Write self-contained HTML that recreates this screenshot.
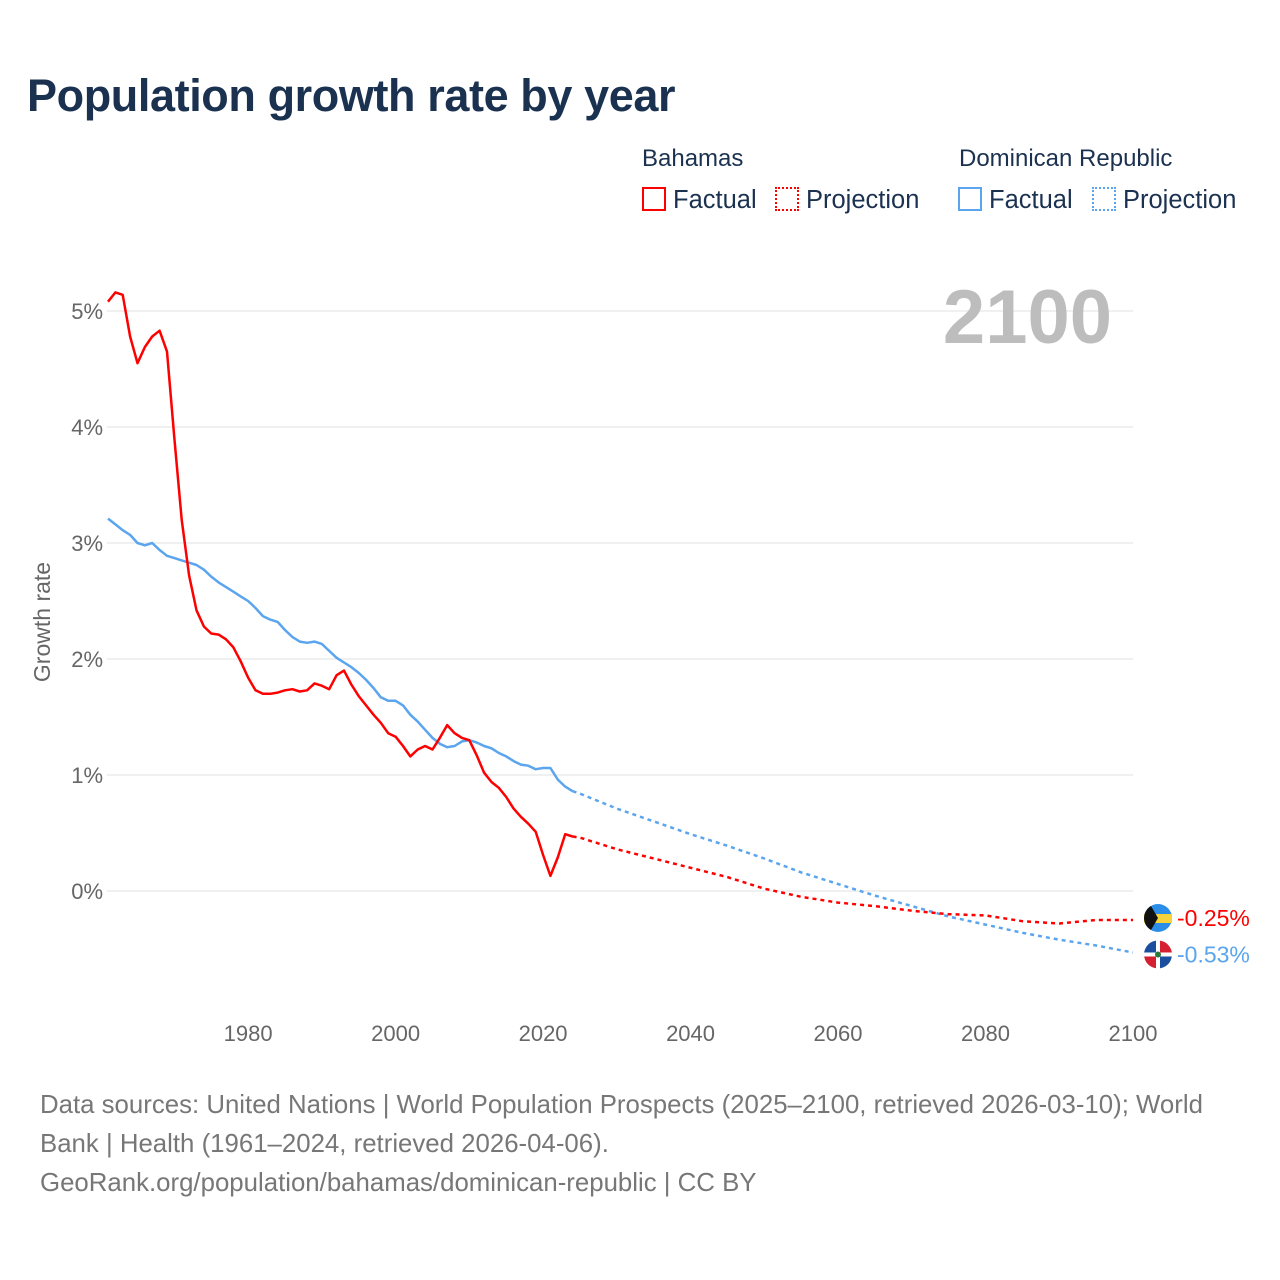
<!DOCTYPE html>
<html><head><meta charset="utf-8">
<style>
body{margin:0;background:#fff;font-family:"Liberation Sans",sans-serif;}
#root{position:relative;width:1280px;height:1280px;overflow:hidden;}
.t{position:absolute;white-space:nowrap;}
</style></head><body>
<div id="root">
<div class="t" style="left:27px;top:70px;font-size:45px;font-weight:bold;color:#1b3150;letter-spacing:-0.4px;">Population growth rate by year</div>
<div class="t" style="left:642px;top:145px;font-size:24px;color:#1b3150;">Bahamas</div>
<div class="t" style="left:959px;top:145px;font-size:24px;color:#1b3150;">Dominican Republic</div>
<div class="t" style="left:642px;top:186px;font-size:25.5px;color:#1b3150;"><span style="display:inline-block;width:20px;height:20px;border:2px solid #f00;vertical-align:-3px;margin-right:7px;"></span>Factual</div>
<div class="t" style="left:775px;top:186px;font-size:25.5px;color:#1b3150;"><span style="display:inline-block;width:20px;height:20px;border:2px dotted #f00;vertical-align:-3px;margin-right:7px;"></span>Projection</div>
<div class="t" style="left:958px;top:186px;font-size:25.5px;color:#1b3150;"><span style="display:inline-block;width:20px;height:20px;border:2px solid #5aa5ee;vertical-align:-3px;margin-right:7px;"></span>Factual</div>
<div class="t" style="left:1092px;top:186px;font-size:25.5px;color:#1b3150;"><span style="display:inline-block;width:20px;height:20px;border:2px dotted #5aa5ee;vertical-align:-3px;margin-right:7px;"></span>Projection</div>
<svg id="chart" width="1280" height="1280" style="position:absolute;left:0;top:0;" font-family="Liberation Sans, sans-serif"></svg>
<div class="t" style="left:40px;top:1086px;font-size:25.8px;color:#777;line-height:39px;">Data sources: United Nations | World Population Prospects (2025–2100, retrieved 2026-03-10); World<br>Bank | Health (1961–2024, retrieved 2026-04-06).<br>GeoRank.org/population/bahamas/dominican-republic | CC BY</div>
</div>
<script>
const factYears=[1961,1962,1963,1964,1965,1966,1967,1968,1969,1970,1971,1972,1973,1974,1975,1976,1977,1978,1979,1980,1981,1982,1983,1984,1985,1986,1987,1988,1989,1990,1991,1992,1993,1994,1995,1996,1997,1998,1999,2000,2001,2002,2003,2004,2005,2006,2007,2008,2009,2010,2011,2012,2013,2014,2015,2016,2017,2018,2019,2020,2021,2022,2023,2024];
const bahFact=[5.08,5.16,5.14,4.78,4.55,4.69,4.78,4.83,4.65,3.9,3.2,2.72,2.42,2.28,2.22,2.21,2.17,2.1,1.98,1.84,1.73,1.7,1.7,1.71,1.73,1.74,1.72,1.73,1.79,1.77,1.74,1.86,1.9,1.78,1.68,1.6,1.52,1.45,1.36,1.33,1.25,1.16,1.22,1.25,1.22,1.32,1.43,1.36,1.32,1.3,1.17,1.02,0.94,0.89,0.81,0.71,0.64,0.58,0.51,0.31,0.13,0.29,0.49,0.47];
const drFact=[3.21,3.16,3.11,3.07,3.0,2.98,3.0,2.94,2.89,2.87,2.85,2.83,2.81,2.77,2.71,2.66,2.62,2.58,2.54,2.5,2.44,2.37,2.34,2.32,2.25,2.19,2.15,2.14,2.15,2.13,2.07,2.01,1.97,1.93,1.88,1.82,1.75,1.67,1.64,1.64,1.6,1.52,1.46,1.39,1.32,1.27,1.24,1.25,1.29,1.3,1.28,1.25,1.23,1.19,1.16,1.12,1.09,1.08,1.05,1.06,1.06,0.96,0.9,0.86];
const projYears=[2024,2025,2030,2035,2040,2045,2050,2055,2060,2065,2070,2075,2080,2085,2090,2095,2100];
const bahProj=[0.47,0.46,0.36,0.28,0.2,0.12,0.02,-0.05,-0.1,-0.13,-0.17,-0.2,-0.21,-0.26,-0.28,-0.25,-0.25];
const drProj=[0.86,0.84,0.71,0.6,0.49,0.39,0.28,0.16,0.06,-0.04,-0.13,-0.22,-0.29,-0.36,-0.42,-0.47,-0.53];
const yTicks=[0,1,2,3,4,5];
const xTicks=[1980,2000,2020,2040,2060,2080,2100];
const endLabels=["-0.25%","-0.53%"];

const svg=document.getElementById('chart');const NS='http://www.w3.org/2000/svg';
const X=y=>108+(y-1961)*(1133-108)/(2100-1961);
const Y=v=>891-v*116;
function el(t,a){const e=document.createElementNS(NS,t);for(const k in a)e.setAttribute(k,a[k]);svg.appendChild(e);return e;}
yTicks.forEach(v=>{
 const g=el('line',{x1:107,x2:1133,y1:Y(v),y2:Y(v),stroke:'#e6e6e6','stroke-width':1.3});
 
 
 const t=el('text',{x:103,y:Y(v)+8,'text-anchor':'end','font-size':22,fill:'#666'});t.textContent=v+'%';
 
 
});
xTicks.forEach(y=>{
 const t=el('text',{x:X(y),y:1041,'text-anchor':'middle','font-size':22,fill:'#666'});t.textContent=y;
 
 
});
const at=el('text',{x:0,y:0,transform:'translate(50,622) rotate(-90)','text-anchor':'middle','font-size':23,fill:'#666'});at.textContent='Growth rate';


const yr=el('text',{x:1112,y:343,'text-anchor':'end','font-size':76,'font-weight':'bold',fill:'#bdbdbd'});yr.textContent='2100';


function line(xs,vs,color,dash,name){
 const d=xs.map((y,i)=>(i?'L':'M')+X(y).toFixed(1)+' '+Y(vs[i]).toFixed(1)).join(' ');
 const p=el('path',{d:d,fill:'none',stroke:color,'stroke-width':2.5,'stroke-linejoin':'round'});
 if(dash)p.setAttribute('stroke-dasharray','4 4');
 
 
}
line(factYears,drFact,'#5aa5ee',false,'dr-factual-line');
line(projYears,drProj,'#5aa5ee',true,'dr-projection-line');
line(factYears,bahFact,'#f00',false,'bahamas-factual-line');
line(projYears,bahProj,'#f00',true,'bahamas-projection-line');
const bLast=bahProj[bahProj.length-1], dLast=drProj[drProj.length-1];
const by=Y(bLast)-2, dy=Y(dLast)+2;
const b1=el('circle',{cx:1158,cy:by,r:14,fill:'#2a8ee8'});
el('rect',{x:1144,y:by-4,width:28,height:9,fill:'#f8d23a'});
el('path',{d:`M1144 ${by} A14 14 0 0 1 1151 ${by-12} L1158 ${by} L1151 ${by+12} A14 14 0 0 1 1144 ${by} Z`,fill:'#111'});
const d1=el('circle',{cx:1158,cy:dy,r:14,fill:'#fff'});
el('path',{d:`M1158 ${dy} L1158 ${dy-14} A14 14 0 0 0 1144 ${dy} Z M1158 ${dy} L1172 ${dy} A14 14 0 0 1 1158 ${dy+14} Z`,fill:'#1a4fa0'});
el('path',{d:`M1158 ${dy} L1172 ${dy} A14 14 0 0 0 1158 ${dy-14} Z M1158 ${dy} L1144 ${dy} A14 14 0 0 0 1158 ${dy+14} Z`,fill:'#d42030'});
el('rect',{x:1144,y:dy-2,width:28,height:4,fill:'#fff'});el('rect',{x:1156,y:dy-14,width:4,height:28,fill:'#fff'});
el('circle',{cx:1158,cy:dy,r:3,fill:'#2a7a3a'});
const l1=el('text',{x:1177,y:by+8,'font-size':23,fill:'#f00'});l1.textContent=endLabels[0];

const l2=el('text',{x:1177,y:dy+8,'font-size':23,fill:'#5aa5ee'});l2.textContent=endLabels[1];

</script>
</body></html>
